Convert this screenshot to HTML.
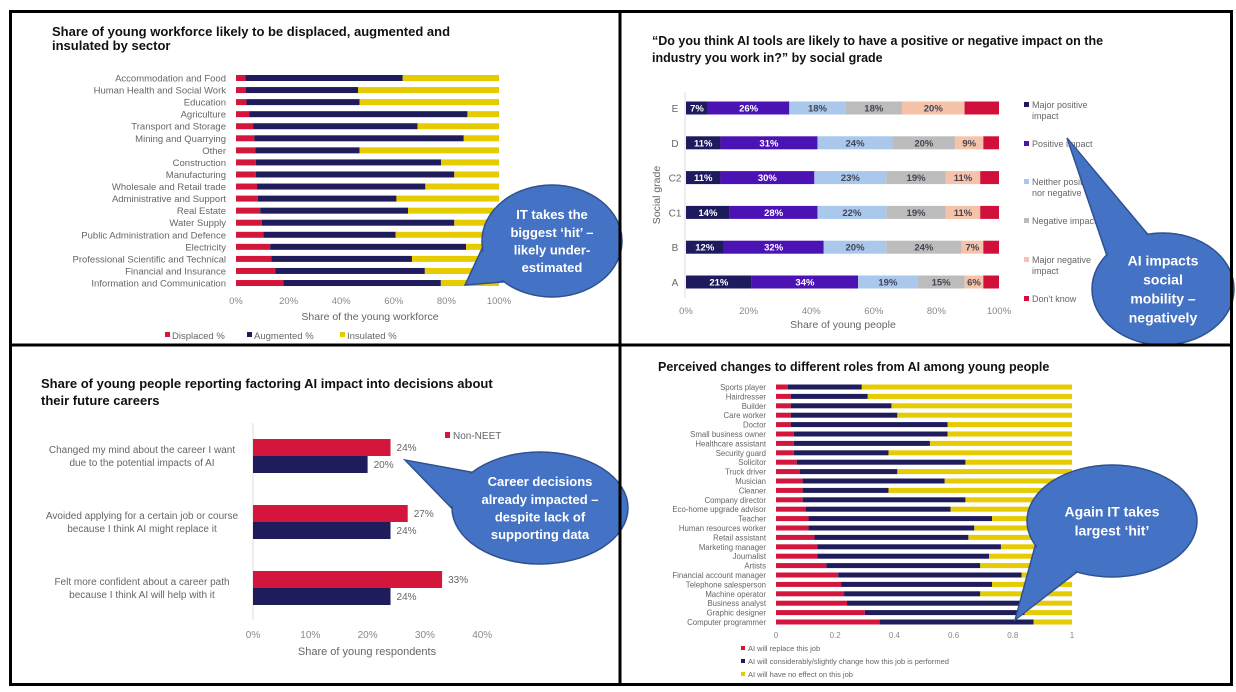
<!DOCTYPE html>
<html><head><meta charset="utf-8"><style>
html,body{margin:0;padding:0;background:#fff;}
svg{display:block;font-family:"Liberation Sans",sans-serif;}
</style></head><body>
<svg id="s" width="1236" height="692" viewBox="0 0 1236 692"></svg>
<script>
// ---- Chart 1 data
const c1Categories=["Accommodation and Food","Human Health and Social Work","Education","Agriculture","Transport and Storage","Mining and Quarrying","Other","Construction","Manufacturing","Wholesale and Retail trade","Administrative and Support","Real Estate","Water Supply","Public Administration and Defence","Electricity","Professional Scientific and Technical","Financial and Insurance","Information and Communication"];
const c1Displaced=[3.5,3.8,4,5,6.5,7,7.4,7.5,7.5,8,8.3,9.2,9.8,10.4,13,13.4,15,18];
const c1Augmented=[59.9,42.6,43,83,62.5,79.6,39.6,70.5,75.5,64,52.7,56.2,73.2,50.3,74.5,53.5,56.8,59.9];
const c1Ticks=[0,20,40,60,80,100];
// ---- Chart 2 data
const c2Grades=["E","D","C2","C1","B","A"];
const c2MajorPos=[7,11,11,14,12,21];
const c2Pos=[26,31,30,28,32,34];
const c2Neither=[18,24,23,22,20,19];
const c2Neg=[18,20,19,19,24,15];
const c2MajorNeg=[20,9,11,11,7,6];
const c2DontKnow=[11,5,6,6,5,5];
const c2Ticks=[0,20,40,60,80,100];
// ---- Chart 3 data
const c3Categories=[["Changed my mind about the career I want","due to the potential impacts of AI"],["Avoided applying for a certain job or course","because I think AI might replace it"],["Felt more confident about a career path","because I think AI will help with it"]];
const c3NonNeet=[24,27,33];
const c3Other=[20,24,24];
const c3Ticks=[0,10,20,30,40];
// ---- Chart 4 data
const c4Roles=["Sports player","Hairdresser","Builder","Care worker","Doctor","Small business owner","Healthcare assistant","Security guard","Solicitor","Truck driver","Musician","Cleaner","Company director","Eco-home upgrade advisor","Teacher","Human resources worker","Retail assistant","Marketing manager","Journalist","Artists","Financial account manager","Telephone salesperson","Machine operator","Business analyst","Graphic designer","Computer programmer"];
const c4Replace=[.04,.05,.05,.05,.05,.06,.06,.06,.07,.08,.09,.09,.09,.10,.11,.11,.13,.14,.14,.17,.21,.22,.23,.24,.30,.35];
const c4Change=[.25,.26,.34,.36,.53,.52,.46,.32,.57,.33,.48,.29,.55,.49,.62,.56,.52,.62,.58,.52,.62,.51,.46,.62,.54,.52];
const c4Ticks=[0,0.2,0.4,0.6,0.8,1];

const NS="http://www.w3.org/2000/svg";
const svg=document.getElementById('s');
function mk(tag,attrs,parent,txt){const e=document.createElementNS(NS,tag);for(const k in attrs)e.setAttribute(k,attrs[k]);if(txt!==undefined)e.textContent=txt;(parent||svg).appendChild(e);return e;}
function grp(name){const g=mk('g',{});

return g;}
const RED="#d4163c",NAVY="#1f1c5c",YEL="#e6cb00",GRAY="#666";

// ===== Chart 1
(function(){
const g=grp('sector-chart');
const x0=236,x1=499,y0=78,step=12.06,bh=6;
const xs=v=>x0+(x1-x0)*v/100;
let t=mk('text',{x:52,y:36,'font-size':13,'font-weight':'bold',fill:'#111'},g,"Share of young workforce likely to be displaced, augmented and");

t=mk('text',{x:52,y:50,'font-size':13,'font-weight':'bold',fill:'#111'},g,"insulated by sector");

c1Categories.forEach((c,i)=>{
 const y=y0+i*step;
 let l=mk('text',{x:226,y:y+3.5,'font-size':9.5,fill:GRAY,'text-anchor':'end'},g,c);
 
 const d=c1Displaced[i],a=c1Augmented[i];
 let r=mk('rect',{x:xs(0),y:y-bh/2,width:xs(d)-xs(0),height:bh,fill:RED},g);
 
 r=mk('rect',{x:xs(d),y:y-bh/2,width:xs(d+a)-xs(d),height:bh,fill:NAVY},g);
 
 r=mk('rect',{x:xs(d+a),y:y-bh/2,width:xs(100)-xs(d+a),height:bh,fill:YEL},g);
 
});
c1Ticks.forEach(v=>{let l=mk('text',{x:xs(v),y:304,'font-size':9.5,fill:'#888','text-anchor':'middle'},g,v+'%');
 });
t=mk('text',{x:370,y:320,'font-size':10.5,fill:GRAY,'text-anchor':'middle'},g,"Share of the young workforce");

[["Displaced %",RED,165],["Augmented %",NAVY,247],["Insulated %",YEL,340]].forEach(e=>{
 let r=mk('rect',{x:e[2],y:332,width:5,height:5,fill:e[1]},g);
 
 let l=mk('text',{x:e[2]+7,y:339,'font-size':9.5,fill:GRAY},g,e[0]);
 
});
})();

// ===== Chart 2
(function(){
const g=grp('social-grade-chart');
const x0=686,x1=999,y0=108,step=34.8,bh=13;
const xs=v=>x0+(x1-x0)*v/100;
let t=mk('text',{x:652,y:45,'font-size':12.5,'font-weight':'bold',fill:'#111'},g,"\u201cDo you think AI tools are likely to have a positive or negative impact on the");

t=mk('text',{x:652,y:62,'font-size':12.5,'font-weight':'bold',fill:'#111'},g,"industry you work in?\u201d by social grade");

mk('line',{x1:685,y1:92,x2:685,y2:298,stroke:'#ddd'},g);
const series=[c2MajorPos,c2Pos,c2Neither,c2Neg,c2MajorNeg,c2DontKnow];
const cols=["#1e1a5e","#4b12b4","#a9c8ec","#bcbcbc","#f5c3aa","#d0103a"];
const tcol=["#fff","#fff","#445","#445","#445","#fff"];
const sn=['major-positive','positive','neither','negative','major-negative','dont-know'];
c2Grades.forEach((gr,i)=>{
 const y=y0+i*step;
 let l=mk('text',{x:675,y:y+4,'font-size':10,fill:GRAY,'text-anchor':'middle'},g,gr);
 
 let cum=0;
 series.forEach((s,k)=>{
  const v=s[i];
  let r=mk('rect',{x:xs(cum),y:y-bh/2,width:xs(cum+v)-xs(cum),height:bh,fill:cols[k]},g);
  
  if(k<5){let tl=mk('text',{x:xs(cum+v/2),y:y+3.5,'font-size':9.5,'font-weight':'bold',fill:tcol[k],'text-anchor':'middle'},g,v+'%');
   }
  cum+=v;
 });
});
c2Ticks.forEach(v=>{let l=mk('text',{x:xs(v),y:314,'font-size':9.5,fill:'#888','text-anchor':'middle'},g,v+'%');
 });
t=mk('text',{x:843,y:328,'font-size':10.5,fill:GRAY,'text-anchor':'middle'},g,"Share of young people");

t=mk('text',{x:0,y:0,'font-size':10.5,fill:GRAY,'text-anchor':'middle',transform:'translate(660,195) rotate(-90)'},g,"Social grade");

const leg=[["Major positive","impact",108],["Positive impact","",147],["Neither positive","nor negative",185],["Negative impact","",224],["Major negative","impact",263],["Don't know","",302]];
leg.forEach((e,k)=>{
 let r=mk('rect',{x:1024,y:e[2]-6,width:5,height:5,fill:cols[k]},g);
 
 let l=mk('text',{x:1032,y:e[2],'font-size':9,fill:GRAY},g,e[0]);
 
 if(e[1]){let l2=mk('text',{x:1032,y:e[2]+11,'font-size':9,fill:GRAY},g,e[1]);
 }
});
})();

// ===== Chart 3
(function(){
const g=grp('career-decisions-chart');
const x0=253,per=5.73,bh=17;
const xs=v=>x0+per*v;
let t=mk('text',{x:41,y:388,'font-size':13,'font-weight':'bold',fill:'#111'},g,"Share of young people reporting factoring AI impact into decisions about");

t=mk('text',{x:41,y:405,'font-size':13,'font-weight':'bold',fill:'#111'},g,"their future careers");

mk('line',{x1:253,y1:423,x2:253,y2:620,stroke:'#ddd'},g);
const gy=[439,505,571];
c3Categories.forEach((c,i)=>{
 const y=gy[i];
 let l=mk('text',{x:142,y:y+14,'font-size':10,fill:GRAY,'text-anchor':'middle'},g,c[0]);
 
 l=mk('text',{x:142,y:y+27,'font-size':10,fill:GRAY,'text-anchor':'middle'},g,c[1]);
 
 let r=mk('rect',{x:x0,y:y,width:xs(c3NonNeet[i])-x0,height:bh,fill:RED},g);
 
 r=mk('rect',{x:x0,y:y+bh,width:xs(c3Other[i])-x0,height:bh,fill:NAVY},g);
 
 let v=mk('text',{x:xs(c3NonNeet[i])+6,y:y+12,'font-size':10,fill:GRAY},g,c3NonNeet[i]+'%');
 
 v=mk('text',{x:xs(c3Other[i])+6,y:y+bh+12,'font-size':10,fill:GRAY},g,c3Other[i]+'%');
 
});
c3Ticks.forEach(v=>{let l=mk('text',{x:xs(v),y:638,'font-size':10,fill:'#888','text-anchor':'middle'},g,v+'%');
 });
t=mk('text',{x:367,y:655,'font-size':11,fill:GRAY,'text-anchor':'middle'},g,"Share of young respondents");

let r=mk('rect',{x:445,y:432,width:5,height:6,fill:RED},g);

t=mk('text',{x:453,y:439,'font-size':10,fill:GRAY},g,"Non-NEET");

})();

// ===== Chart 4
(function(){
const g=grp('roles-chart');
const x0=776,x1=1072,y0=387,step=9.4,bh=5;
const xs=v=>x0+(x1-x0)*v;
let t=mk('text',{x:658,y:371,'font-size':12.5,'font-weight':'bold',fill:'#111'},g,"Perceived changes to different roles from AI among young people");

c4Roles.forEach((c,i)=>{
 const y=y0+i*step;
 let l=mk('text',{x:766,y:y+3,'font-size':7.8,fill:GRAY,'text-anchor':'end'},g,c);
 
 const a=c4Replace[i],b=c4Change[i];
 let r=mk('rect',{x:xs(0),y:y-bh/2,width:xs(a)-xs(0),height:bh,fill:RED},g);
 
 r=mk('rect',{x:xs(a),y:y-bh/2,width:xs(a+b)-xs(a),height:bh,fill:NAVY},g);
 
 r=mk('rect',{x:xs(a+b),y:y-bh/2,width:xs(1)-xs(a+b),height:bh,fill:YEL},g);
 
});
c4Ticks.forEach(v=>{let l=mk('text',{x:xs(v),y:638,'font-size':8,fill:'#888','text-anchor':'middle'},g,String(v));
 });
[["AI will replace this job",RED,650],["AI will considerably/slightly change how this job is performed",NAVY,663],["AI will have no effect on this job",YEL,676]].forEach(e=>{
 let r=mk('rect',{x:741,y:e[2]-4,width:4,height:4,fill:e[1]},g);
 
 let l=mk('text',{x:748,y:e[2]+1,'font-size':7.5,fill:GRAY},g,e[0]);
 
});
})();

// ===== Callouts
function callout(name,cx,cy,rx,ry,tx,ty,lines,fs){
 const g=grp(name);
 const ang=Math.atan2(ty-cy,tx-cx);
 const p1=[cx+rx*Math.cos(ang-0.35),cy+ry*Math.sin(ang-0.35)];
 const p2=[cx+rx*Math.cos(ang+0.35),cy+ry*Math.sin(ang+0.35)];
 const pts=p1.join(',')+' '+tx+','+ty+' '+p2.join(',');
 mk('polygon',{points:pts,fill:'#4472c4',stroke:'#2f528f','stroke-width':1.5},g);
 mk('ellipse',{cx:cx,cy:cy,rx:rx,ry:ry,fill:'#4472c4',stroke:'#2f528f','stroke-width':1.5},g);
 const pin=[cx+(rx-3)*Math.cos(ang-0.35),cy+(ry-3)*Math.sin(ang-0.35)];
 const pin2=[cx+(rx-3)*Math.cos(ang+0.35),cy+(ry-3)*Math.sin(ang+0.35)];
 mk('polygon',{points:pin.join(',')+' '+(tx-(tx-cx)*0.02)+','+(ty-(ty-cy)*0.02)+' '+pin2.join(','),fill:'#4472c4'},g);
 const lh=fs*1.35, start=cy-(lines.length-1)*lh/2+fs*0.35;
 lines.forEach((s,i)=>{let l=mk('text',{x:cx,y:start+i*lh,'font-size':fs,'font-weight':'bold',fill:'#fff','text-anchor':'middle'},g,s);
  });
}
callout('callout-it-hit',552,241,70,56,465,285,["IT takes the","biggest \u2018hit\u2019 \u2013","likely under-","estimated"],13);
callout('callout-social-mobility',1163,289,71,56,1067,138,["AI impacts","social","mobility \u2013","negatively"],14);
callout('callout-career-decisions',540,508,88,56,405,460,["Career decisions","already impacted \u2013","despite lack of","supporting data"],13);
callout('callout-again-it',1112,521,85,56,1015,620,["Again IT takes","largest \u2018hit\u2019"],14);

// ===== Frame
const fr=grp('panel-frame');
mk('rect',{x:10.5,y:11.5,width:1221,height:673,fill:'none',stroke:'#000','stroke-width':3},fr);
mk('line',{x1:620,y1:10,x2:620,y2:686,stroke:'#000','stroke-width':3},fr);
mk('line',{x1:9,y1:345,x2:1232,y2:345,stroke:'#000','stroke-width':3},fr);
</script>
</body></html>
